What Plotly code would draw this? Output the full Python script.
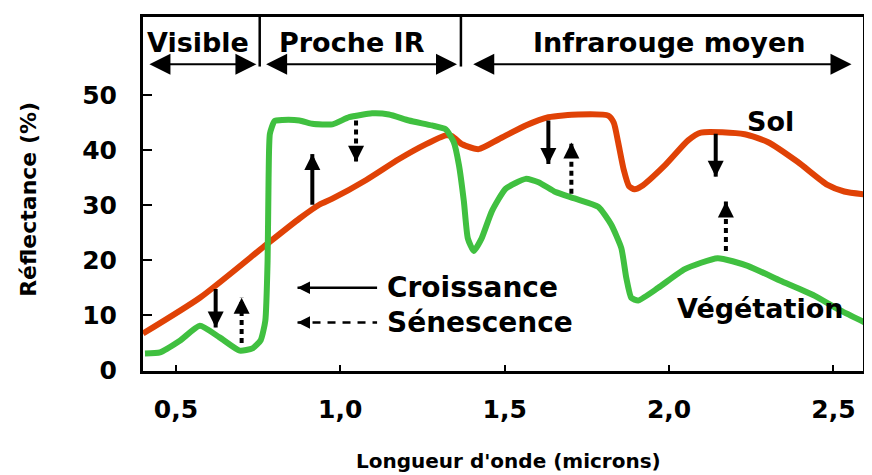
import plotly.graph_objects as go

# ---------------- data ----------------
veg_x = [0.406, 0.452, 0.512, 0.573, 0.633, 0.694, 0.733, 0.758, 0.772, 0.779, 0.782, 0.786,
         0.800, 0.824, 0.876, 0.915, 0.976, 1.027, 1.097, 1.148, 1.209, 1.279, 1.321, 1.345,
         1.361, 1.376, 1.388, 1.406, 1.430, 1.461, 1.503, 1.564, 1.603, 1.655, 1.715, 1.785,
         1.824, 1.855, 1.870, 1.885, 1.906, 1.967, 2.048, 2.148, 2.239, 2.339, 2.442, 2.521, 2.603]
veg_y = [3.1, 3.3, 5.4, 8.1, 6.0, 3.6, 4.0, 5.5, 9.0, 20.0, 35.0, 43.0,
         45.3, 45.5, 45.4, 44.8, 44.7, 46.0, 46.7, 46.5, 45.4, 44.5, 43.8, 41.5,
         37.3, 30.7, 24.0, 21.7, 24.0, 28.9, 33.0, 34.8, 34.2, 32.4, 31.2, 29.7,
         26.5, 22.2, 16.8, 13.2, 12.7, 15.0, 18.4, 20.4, 19.0, 16.3, 13.6, 10.9, 8.5]

sol_x = [0.400, 0.573, 0.776, 0.876, 0.936, 0.976, 1.079, 1.179, 1.261, 1.321, 1.339, 1.370,
         1.382, 1.421, 1.482, 1.564, 1.633, 1.724, 1.815, 1.832, 1.845, 1.862, 1.878, 1.895,
         1.915, 1.988, 2.058, 2.097, 2.230, 2.300, 2.391, 2.482, 2.533, 2.603]
sol_y = [6.7, 13.2, 22.9, 27.6, 30.1, 31.2, 34.6, 38.4, 41.1, 42.7, 42.6, 41.1,
         40.8, 40.2, 42.0, 44.5, 46.0, 46.5, 46.3, 45.0, 41.5, 36.5, 33.5, 32.9,
         33.4, 37.3, 41.8, 43.2, 42.9, 41.5, 37.9, 33.7, 32.5, 31.9]

# change arrows: x, start, tip, kind
arrow_x = [0.621, 0.700, 0.915, 1.048, 1.633, 1.703, 2.142, 2.173]
arrow_y0 = [14.8, 5.0, 30.1, 45.4, 45.4, 32.1, 43.0, 21.7]
arrow_y1 = [7.8, 13.2, 39.3, 37.9, 37.5, 41.4, 35.2, 30.7]
arrow_kind = ["Croissance", "Sénescence", "Croissance", "Sénescence",
              "Croissance", "Sénescence", "Croissance", "Sénescence"]

# spectral bands
band_names = ["Visible", "Proche IR", "Infrarouge moyen"]
band_start = [0.415, 0.770, 1.400]
band_end = [0.745, 1.355, 2.555]
band_label_x = [0.567, 1.036, 2.000]
band_edges = [0.755, 1.367]
band_y = 55.6
band_label_y = 59.6

# legend (arrows)
legend_names = ["Croissance", "Sénescence"]
legend_x0 = [0.870, 0.870]
legend_x1 = [1.112, 1.112]
legend_y = [15.0, 8.7]
legend_text_x = 1.135

x_tickvals = [0.5, 1.0, 1.5, 2.0, 2.5]
x_ticktext = ["0,5", "1,0", "1,5", "2,0", "2,5"]
y_tickvals = [0, 10, 20, 30, 40, 50]
y_ticktext = ["0", "10", "20", "30", "40", "50"]

curve_labels = ["Sol", "Végétation"]
curve_label_x = [2.309, 2.018]
curve_label_y = [45.2, 11.2]

# ---------------- figure ----------------
FONT = "DejaVu Sans"
GREEN = "#40c040"
RED = "#e04206"

fig = go.Figure()

fig.add_trace(go.Scatter(x=sol_x, y=sol_y, mode="lines",
                         line=dict(color=RED, width=6, shape="spline", smoothing=0.6),
                         hoverinfo="skip", showlegend=False))
fig.add_trace(go.Scatter(x=veg_x, y=veg_y, mode="lines",
                         line=dict(color=GREEN, width=6, shape="spline", smoothing=0.5),
                         hoverinfo="skip", showlegend=False))

annotations = []

# vertical arrows
for xv, y0, y1, k in zip(arrow_x, arrow_y0, arrow_y1, arrow_kind):
    dash = "solid" if k == "Croissance" else "5px,4px"
    fig.add_trace(go.Scatter(x=[xv, xv], y=[y0, y1], mode="lines",
                             line=dict(color="black", width=4, dash=dash),
                             hoverinfo="skip", showlegend=False))
    up = y1 > y0
    annotations.append(dict(x=xv, y=y1, xref="x", yref="y", text="", showarrow=True,
                            ax=0, ay=(14 if up else -14), arrowhead=2, arrowsize=0.8,
                            arrowwidth=4, arrowcolor="black"))

# band header
for xe in band_edges:
    fig.add_shape(type="line", xref="x", yref="y", x0=xe, x1=xe, y0=55.2, y1=64.2,
                  line=dict(color="black", width=2.5))
for name, xs, xe, xl in zip(band_names, band_start, band_end, band_label_x):
    annotations.append(dict(x=xe, y=band_y, ax=xs, ay=band_y, xref="x", yref="y",
                            axref="x", ayref="y", text="", showarrow=True,
                            arrowhead=2, arrowside="end+start", arrowsize=2.1,
                            arrowwidth=2, arrowcolor="black"))
    annotations.append(dict(x=xl, y=band_label_y, xref="x", yref="y", text=name,
                            showarrow=False, xanchor="center", yanchor="middle",
                            font=dict(family=FONT, size=27, color="black", weight="bold")))

# legend arrows
for name, x0, x1, yv in zip(legend_names, legend_x0, legend_x1, legend_y):
    dash = "solid" if name == "Croissance" else "8px,7px"
    fig.add_trace(go.Scatter(x=[x0, x1], y=[yv, yv], mode="lines",
                             line=dict(color="black", width=2.5, dash=dash),
                             hoverinfo="skip", showlegend=False))
    annotations.append(dict(x=x0, y=yv, xref="x", yref="y", text="", showarrow=True,
                            ax=12, ay=0, arrowhead=2, arrowsize=1.0, arrowwidth=2.5,
                            arrowcolor="black"))
    annotations.append(dict(x=legend_text_x, y=yv, xref="x", yref="y", text=name,
                            showarrow=False, xanchor="left", yanchor="middle",
                            font=dict(family=FONT, size=28, color="black", weight="bold")))

# curve labels
for name, xl, yl in zip(curve_labels, curve_label_x, curve_label_y):
    annotations.append(dict(x=xl, y=yl, xref="x", yref="y", text=name, showarrow=False,
                            xanchor="left" if name != "Sol" else "center", yanchor="middle",
                            font=dict(family=FONT, size=27, color="black", weight="bold")))

# axis titles
annotations.append(dict(x=-0.159, y=0.485, xref="paper", yref="paper",
                        text="Réflectance (%)", textangle=-90, showarrow=False,
                        xanchor="center", yanchor="middle",
                        font=dict(family=FONT, size=22, color="black", weight="bold")))
annotations.append(dict(x=0.508, y=-0.255, xref="paper", yref="paper",
                        text="Longueur d'onde (microns)", showarrow=False,
                        xanchor="center", yanchor="middle",
                        font=dict(family=FONT, size=20, color="black", weight="bold")))

fig.update_layout(
    width=864, height=467,
    margin=dict(l=135, r=6, t=6, b=104),
    paper_bgcolor="white", plot_bgcolor="white",
    showlegend=False,
    annotations=annotations,
    xaxis=dict(range=[0.40, 2.59], showgrid=False, zeroline=False,
               tickvals=x_tickvals, ticktext=x_ticktext, ticks="inside", ticklen=6,
               tickwidth=2, tickcolor="black", ticklabelstandoff=14,
               showline=True, linecolor="black", linewidth=3, mirror=True,
               tickfont=dict(family=FONT, size=25, color="black", weight="bold")),
    yaxis=dict(range=[-0.1, 64.2], showgrid=False, zeroline=False,
               tickvals=y_tickvals, ticktext=y_ticktext, ticks="inside", ticklen=9,
               tickwidth=2, tickcolor="black", ticklabelstandoff=18,
               showline=True, linecolor="black", linewidth=3, mirror=True,
               tickfont=dict(family=FONT, size=25, color="black", weight="bold")),
)

fig.write_html("out.html")
